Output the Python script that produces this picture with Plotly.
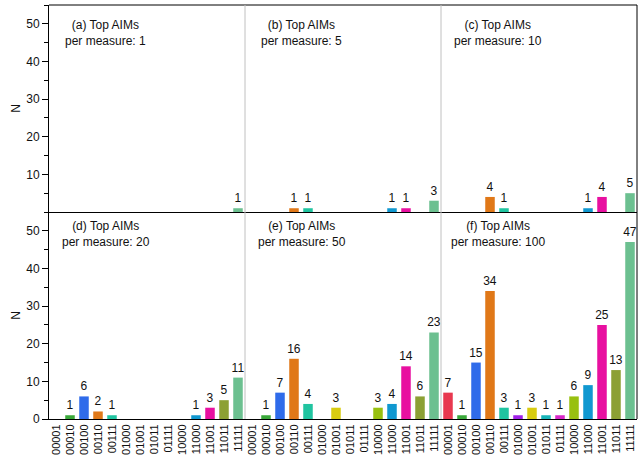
import plotly.graph_objects as go
from plotly.subplots import make_subplots

categories = ["00001", "00010", "00100", "00110", "00111", "01000", "01001",
              "01011", "01111", "10000", "11000", "11001", "11011", "11111"]
colors = ["#e8384f", "#3aa83a", "#2f6bea", "#e07818", "#20c4a0", "#a020e8", "#d8cc10",
          "#18b4b8", "#d828c8", "#98c010", "#1098d0", "#e810a0", "#8ca034", "#6cc090"]

n_top1 = [0, 0, 0, 0, 0, 0, 0, 0, 0, 0, 0, 0, 0, 1]
n_top5 = [0, 0, 0, 1, 1, 0, 0, 0, 0, 0, 1, 1, 0, 3]
n_top10 = [0, 0, 0, 4, 1, 0, 0, 0, 0, 0, 1, 4, 0, 5]
n_top20 = [0, 1, 6, 2, 1, 0, 0, 0, 0, 0, 1, 3, 5, 11]
n_top50 = [0, 1, 7, 16, 4, 0, 3, 0, 0, 3, 4, 14, 6, 23]
n_top100 = [7, 1, 15, 34, 3, 1, 3, 1, 1, 6, 9, 25, 13, 47]

panels = [
    ("(a) Top AIMs<br>per measure: 1", n_top1, 1, 1),
    ("(b) Top AIMs<br>per measure: 5", n_top5, 1, 2),
    ("(c) Top AIMs<br>per measure: 10", n_top10, 1, 3),
    ("(d) Top AIMs<br>per measure: 20", n_top20, 2, 1),
    ("(e) Top AIMs<br>per measure: 50", n_top50, 2, 2),
    ("(f) Top AIMs<br>per measure: 100", n_top100, 2, 3),
]

FONT = "Liberation Sans, Arial, sans-serif"

fig = make_subplots(rows=2, cols=3, horizontal_spacing=0, vertical_spacing=0)

for title, vals, r, c in panels:
    fig.add_trace(go.Bar(
        x=categories, y=vals,
        marker=dict(color=colors, line=dict(width=0)),
        text=[str(v) if v > 0 else "" for v in vals],
        textposition="outside", cliponaxis=False, constraintext="none",
        textangle=0,
        textfont=dict(family=FONT, size=12, color="#111111"),
        showlegend=False, hoverinfo="x+y",
    ), row=r, col=c)

    idx = (r - 1) * 3 + c
    suffix = "" if idx == 1 else str(idx)
    ytop = 1 - 11 / 207 if r == 1 else 1 - 5 / 207
    fig.add_annotation(
        text=title, showarrow=False,
        xref=f"x{suffix} domain", yref=f"y{suffix} domain",
        x=0.29, y=ytop, xanchor="center", yanchor="top",
        font=dict(family=FONT, size=12, color="#111111"),
    )

for r in (1, 2):
    for c in (1, 2, 3):
        fig.update_xaxes(
            type="category", categoryorder="array", categoryarray=categories,
            showline=True, linecolor="black", linewidth=1,
            showgrid=False, zeroline=False, ticks="",
            showticklabels=(r == 2), tickangle=-90,
            tickfont=dict(family=FONT, size=11, color="#111111"),
            row=r, col=c,
        )
        fig.update_yaxes(
            range=[0, 55], showgrid=False, zeroline=False,
            showline=(c == 1), linecolor="black", linewidth=1,
            ticks="outside" if c == 1 else "", ticklen=6, tickcolor="black",
            tickvals=([10, 20, 30, 40, 50] if r == 1 else [0, 10, 20, 30, 40, 50]),
            showticklabels=(c == 1),
            tickfont=dict(family=FONT, size=12, color="#111111"),
            minor=dict(dtick=5, ticks="outside" if c == 1 else "", ticklen=4,
                       tickcolor="black", showgrid=False),
            row=r, col=c,
        )
    fig.update_yaxes(title=dict(text="N", standoff=3,
                                font=dict(family=FONT, size=12, color="#111111")),
                     row=r, col=1)

fig.update_traces(width=0.68)

# frame: top and right borders, gray column separators
fig.add_shape(type="line", xref="paper", yref="paper", x0=0, x1=1, y0=1, y1=1,
              line=dict(color="black", width=1))
fig.add_shape(type="line", xref="paper", yref="paper", x0=1, x1=1, y0=0, y1=1,
              line=dict(color="black", width=1))
for xs in (1 / 3, 2 / 3):
    fig.add_shape(type="line", xref="paper", yref="paper", x0=xs, x1=xs, y0=0, y1=1,
                  line=dict(color="#c0c0c0", width=1))

fig.update_layout(
    width=643, height=462,
    margin=dict(l=49, r=6, t=5, b=43, autoexpand=False),
    plot_bgcolor="white", paper_bgcolor="white",
    bargap=0.3,
    font=dict(family=FONT, size=12, color="#111111"),
)

fig.write_html("out.html", config={"displayModeBar": False},
               post_script="document.body.style.margin='0';")
